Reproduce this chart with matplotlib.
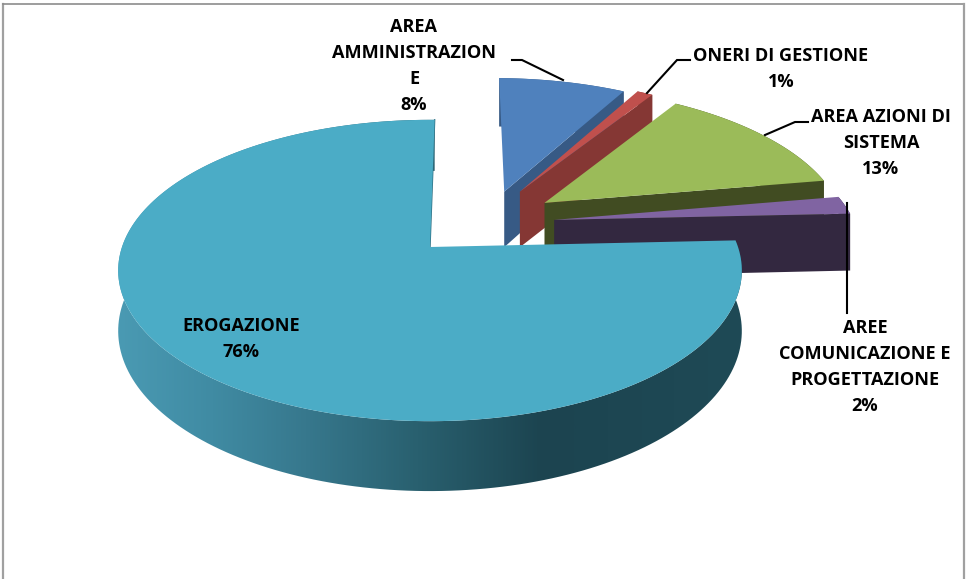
#!/usr/bin/env python3
"""
3D exploded pie chart, drawn by hand with a small perspective projection
"""

import numpy as np
import matplotlib
matplotlib.use("Agg")
import matplotlib.pyplot as plt
from matplotlib.colors import LinearSegmentedColormap
from matplotlib.patches import Polygon

# data
categories = ["AREA\nAMMINISTRAZION\nE", "ONERI DI GESTIONE", "AREA AZIONI DI\nSISTEMA",
              "AREE\nCOMUNICAZIONE E\nPROGETTAZIONE", "EROGAZIONE"]
percents = [8, 1, 13, 2, 76]

# style per slice
top_colors = ["#4f81bd", "#c0504d", "#9bbb59", "#8064a2", "#4bacc6"]
side_colors = ["#375a85", "#853734", "#414c22", "#332840", "#1e4753"]
explode = [(0.256, -0.40), (0.31, -0.40), (0.39, -0.315), (0.415, -0.19), (0.0, 0.0)]
label_pos = [(414, 66), (781, 69), (881, 143), (865, 367), (241, 339)]
leaders = [
    [(512, 60), (522, 60), (563, 80)],
    [(690, 60), (677, 60), (647, 93)],
    [(808, 122), (795, 122), (765, 135)],
    [(847, 203), (847, 313)],
]

# projection parameters, in pixels of the final image
CX, CY = 430, 247
RX, RY = 308, 147
PERSP = 0.156
HEIGHT = 59
ROTATION = 1.0


def project(x, y, z=0.0):
    s = 1.0 / (1.0 - PERSP * y)
    return CX + RX * x * s, CY + (RY * y + HEIGHT * z) * s


def arc(a0, a1, off, z=0.0):
    t = np.radians(np.linspace(a0, a1, 200) + ROTATION)
    return project(off[0] + np.sin(t), off[1] - np.cos(t), z)


fig = plt.figure(figsize=(9.67, 5.79), dpi=100)
ax = fig.add_axes([0, 0, 1, 1])
ax.set_xlim(0, 967)
ax.set_ylim(579, 0)
ax.axis("off")

# chart frame
ax.plot([3, 3], [579, 4], color="#a0a0a0", lw=1.6, zorder=1)
ax.plot([3, 964], [4, 4], color="#8c8c8c", lw=1.2, zorder=1)
ax.plot([964, 964], [4, 579], color="#a0a0a0", lw=1.6, zorder=1)

edges = np.cumsum([0] + percents) * 3.6
zorder = 2
for i in range(len(percents)):
    a0, a1, off = edges[i], edges[i + 1], explode[i]
    apex_top = project(off[0], off[1], 0)
    apex_bot = project(off[0], off[1], 1)
    tx, ty = arc(a0, a1, off, 0)
    bx, by = arc(a0, a1, off, 1)

    if i < 4:
        # cut face on the clockwise side, then the rim
        face = [apex_top, (tx[-1], ty[-1]), (bx[-1], by[-1]), apex_bot]
        ax.add_patch(Polygon(face, fc=side_colors[i], ec="none", zorder=zorder))
        rim = np.column_stack([np.r_[tx, bx[::-1]], np.r_[ty, by[::-1]]])
        ax.add_patch(Polygon(rim, fc=side_colors[i], ec="none", zorder=zorder))
    else:
        # big slice: rim shaded from left to right
        cmap = LinearSegmentedColormap.from_list(
            "rim",
            [(0.0, "#4a9ab3"), (0.15, "#408ba3"), (0.30, "#37788d"), (0.48, "#29606f"),
             (0.68, "#1c4450"), (1.0, "#1f4a56")])
        rim = np.column_stack([np.r_[tx, bx[::-1]], np.r_[ty, by[::-1]]])
        clip = Polygon(rim, fc="none", ec="none", transform=ax.transData)
        ax.add_patch(clip)
        im = ax.imshow(np.linspace(0, 1, 512)[None, :], cmap=cmap, aspect="auto",
                       extent=[tx.min(), tx.max(), 579, 0], zorder=zorder)
        im.set_clip_path(clip)
        ax.set_xlim(0, 967)
        ax.set_ylim(579, 0)
        # thin inner face at the closing edge
        ax.plot([apex_top[0], tx[-1]], [apex_top[1], ty[-1]], color="#2f6f82", lw=1.0, zorder=zorder)

    top = np.column_stack([np.r_[apex_top[0], tx], np.r_[apex_top[1], ty]])
    ax.add_patch(Polygon(top, fc=top_colors[i], ec="none", zorder=zorder + 1))
    zorder += 2

# leader lines
for pts in leaders:
    xs, ys = zip(*pts)
    ax.plot(xs, ys, color="black", lw=1.5, zorder=20, solid_joinstyle="miter")

# labels
for name, pct, (lx, ly) in zip(categories, percents, label_pos):
    ax.text(lx, ly, f"{name}\n{pct}%", ha="center", va="center", fontsize=13.1,
            family="Open Sans", fontweight="bold", color="black", linespacing=1.55, zorder=21)

fig.savefig("out.png", dpi=100)
